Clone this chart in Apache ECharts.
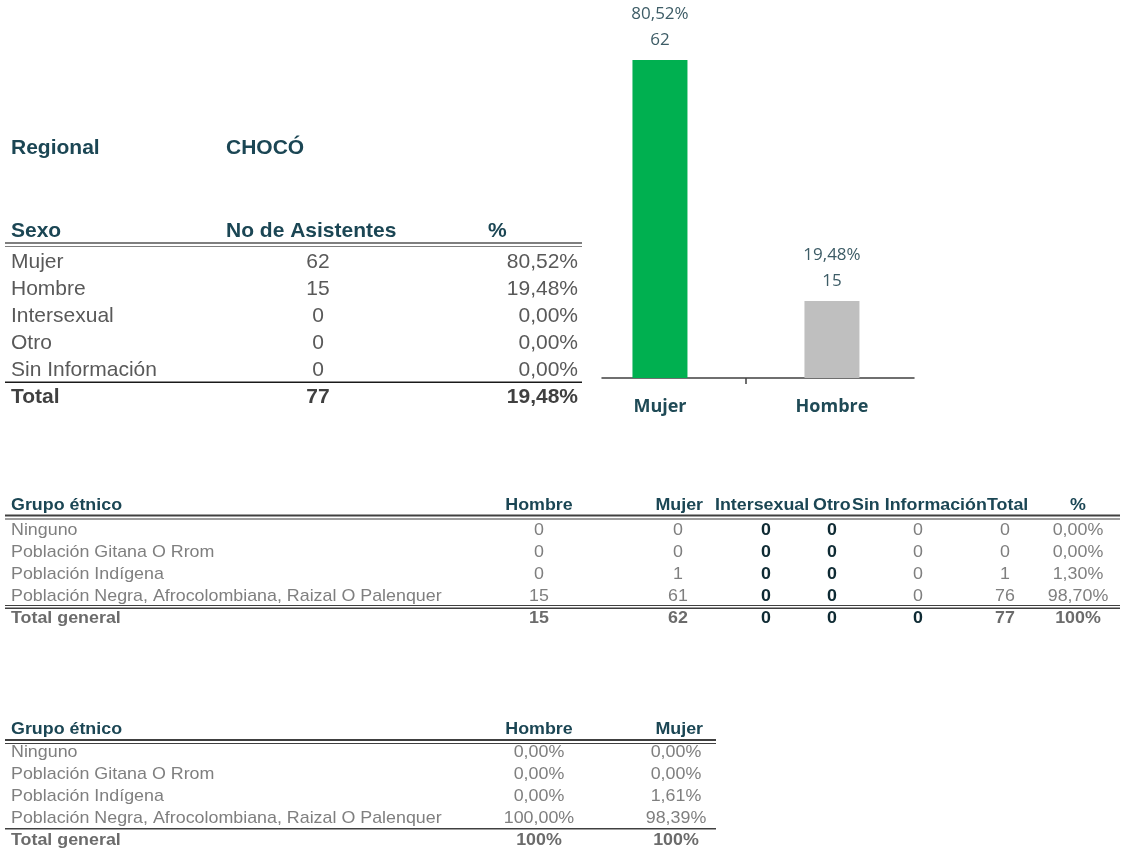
<!DOCTYPE html>
<html><head><meta charset="utf-8">
<script src="https://cdn.jsdelivr.net/npm/echarts@6/dist/echarts.min.js"></script>
<style>html,body{margin:0;padding:0;background:#fff}#c{width:1121px;height:849px}</style>
</head><body><div id="c"></div>
<script>
// ---- data ----
const regionalName = 'CHOCÓ';
const sexCategories = ['Mujer', 'Hombre', 'Intersexual', 'Otro', 'Sin Información'];
const sexCounts = [62, 15, 0, 0, 0];
const sexPercents = [80.52, 19.48, 0, 0, 0];
const sexTotalRow = ['Total', 77, '19,48%'];

const barCategories = ['Mujer', 'Hombre'];
const barValues = [62, 15];
const barPercents = [80.52, 19.48];

const ethnicGroups = ['Ninguno', 'Población Gitana O Rrom', 'Población Indígena', 'Población Negra, Afrocolombiana, Raizal O Palenquera'];
const ethHeaders = ['Hombre', 'Mujer', 'Intersexual', 'Otro', 'Sin Información', 'Total', '%'];
const ethHombre = [0, 0, 0, 15];
const ethMujer = [0, 0, 1, 61];
const ethIntersexual = [0, 0, 0, 0];
const ethOtro = [0, 0, 0, 0];
const ethSinInfo = [0, 0, 0, 0];
const ethTotal = [0, 0, 1, 76];
const ethPercent = [0, 0, 1.30, 98.70];
const ethTotalRow = [15, 62, 0, 0, 0, 77, '100%'];

const pctHeaders = ['Hombre', 'Mujer'];
const pctHombre = [0, 0, 0, 100];
const pctMujer = [0, 0, 1.61, 98.39];
const pctTotalRow = ['100%', '100%'];

// ---- helpers ----
const fmtPct = v => v.toFixed(2).replace('.', ',') + '%';
const FONT = "'Liberation Sans', Arial, sans-serif";
const HEAD = '#1b4654', GRAY1 = '#595959', GRAY2 = '#7f7f7f', DARK = '#0e2a33';

function T(x, y, text, font, color, align, sx, extra) {
  const style = Object.assign({
    text: String(text), font: font, fill: color,
    align: align || 'left', verticalAlign: 'middle',
    textAlign: align || 'left', textVerticalAlign: 'middle'
  }, extra || {});
  return { type: 'text', x: x, y: y, scaleX: sx || 1, silent: true, style: style };
}
function R(x, y, w, h, color) {
  return { type: 'rect', silent: true, shape: { x: x, y: y, width: w, height: h }, style: { fill: color } };
}

const g = [];
// ---- top table ----
const bH = 'bold 21px ' + FONT, rH = '21px ' + FONT;
g.push(T(11, 148, 'Regional', bH, HEAD));
g.push(T(226, 148, regionalName, bH, HEAD));
g.push(T(11, 231, 'Sexo', bH, HEAD));
g.push(T(226, 231, 'No de Asistentes', bH, HEAD));
g.push(T(488, 231, '%', bH, HEAD));
g.push(R(5, 242, 577, 2, '#7f7f7f'));
g.push(R(5, 246, 577, 1, '#7f7f7f'));
sexCategories.forEach((c, i) => {
  const y = 262 + i * 27;
  g.push(T(11, y, c, rH, GRAY1));
  g.push(T(318, y, sexCounts[i], rH, GRAY1, 'center'));
  g.push(T(578, y, fmtPct(sexPercents[i]), rH, GRAY1, 'right'));
});
g.push(R(5, 381.5, 577, 1.5, '#1a1a1a'));
g.push(T(11, 397, sexTotalRow[0], bH, '#404040'));
g.push(T(318, 397, sexTotalRow[1], bH, '#404040', 'center'));
g.push(T(578, 397, sexTotalRow[2], bH, '#404040', 'right'));

// ---- ethnic table ----
const SX = 1.05;
const bE = 'bold 17px ' + FONT, rE = '17px ' + FONT;
const ethCols = [
  { x: 539, hx: 539, ha: 'center', vals: ethHombre, dark: false },
  { x: 678, hx: 703, ha: 'right', vals: ethMujer, dark: false },
  { x: 766, hx: 715, ha: 'left', vals: ethIntersexual, dark: true },
  { x: 832, hx: 813, ha: 'left', vals: ethOtro, dark: true },
  { x: 918, hx: 852, ha: 'left', vals: ethSinInfo, dark: false },
  { x: 1005, hx: 987, ha: 'left', vals: ethTotal, dark: false },
  { x: 1078, hx: 1078, ha: 'center', vals: ethPercent.map(fmtPct), dark: false }
];
const TRUNC = { width: 414, overflow: 'truncate', ellipsis: '' };
g.push(T(11, 505, 'Grupo étnico', bE, HEAD, 'left', SX));
ethCols.forEach((c, j) => g.push(T(c.hx, 505, ethHeaders[j], bE, HEAD, c.ha, SX)));
g.push(R(5, 514.5, 1115, 2, '#404040'));
g.push(R(5, 518.5, 1115, 1, '#404040'));
const ethY = [530, 552, 574, 596.5];
ethnicGroups.forEach((name, i) => {
  g.push(T(11, ethY[i], name, rE, GRAY2, 'left', SX, TRUNC));
  ethCols.forEach(c => {
    g.push(T(c.x, ethY[i], c.vals[i], c.dark ? bE : rE, c.dark ? DARK : GRAY2, 'center', SX));
  });
});
g.push(R(5, 605, 1115, 1, '#404040'));
g.push(R(5, 607.5, 1115, 1.5, '#404040'));
g.push(T(11, 618, 'Total general', bE, '#6b6b6b', 'left', SX));
ethCols.forEach((c, j) => {
  const dk = (j >= 2 && j <= 4);
  g.push(T(c.x, 618, ethTotalRow[j], bE, dk ? DARK : '#6b6b6b', 'center', SX));
});

// ---- percent table ----
g.push(T(11, 729, 'Grupo étnico', bE, HEAD, 'left', SX));
g.push(T(539, 729, pctHeaders[0], bE, HEAD, 'center', SX));
g.push(T(703, 729, pctHeaders[1], bE, HEAD, 'right', SX));
g.push(R(5, 739, 711, 2, '#404040'));
g.push(R(5, 743, 711, 1, '#404040'));
const pY = [752, 774, 796.5, 818.5];
ethnicGroups.forEach((name, i) => {
  g.push(T(11, pY[i], name, rE, GRAY2, 'left', SX, TRUNC));
  g.push(T(539, pY[i], fmtPct(pctHombre[i]), rE, GRAY2, 'center', SX));
  g.push(T(676, pY[i], fmtPct(pctMujer[i]), rE, GRAY2, 'center', SX));
});
g.push(R(5, 828, 711, 1.5, '#404040'));
g.push(T(11, 840, 'Total general', bE, '#6b6b6b', 'left', SX));
g.push(T(539, 840, pctTotalRow[0], bE, '#6b6b6b', 'center', SX));
g.push(T(676, 840, pctTotalRow[1], bE, '#6b6b6b', 'center', SX));

// ---- chart ----
const barColors = ['#00b050', '#bfbfbf'];
const chart = echarts.init(document.getElementById('c'), null, { renderer: 'canvas' });
chart.setOption({
  animation: false,
  backgroundColor: '#ffffff',
  grid: { left: 602, width: 312, top: 0, height: 378, containLabel: false },
  xAxis: {
    type: 'value', min: -0.337, max: 1.477,
    splitLine: { show: false },
    axisLine: { show: true, lineStyle: { color: '#404040', width: 1.5 } },
    axisTick: { show: true, customValues: [0.5], length: 6, lineStyle: { color: '#404040', width: 1.5 } },
    axisLabel: {
      customValues: [0, 1],
      formatter: v => barCategories[Math.round(v)],
      margin: 20, fontFamily: "'Open Sans', sans-serif", fontWeight: 'bold', fontSize: 18, color: '#1f4a56'
    }
  },
  yAxis: { type: 'value', min: 0, max: 73.7, show: false },
  series: [{
    type: 'bar',
    barWidth: 55,
    data: barValues.map((v, i) => ({ value: [i, v], itemStyle: { color: barColors[i] } })),
    label: {
      show: true, position: 'top', distance: 7,
      formatter: p => fmtPct(barPercents[p.dataIndex]) + '\n' + barValues[p.dataIndex],
      fontFamily: "'Open Sans', sans-serif", fontSize: 17, lineHeight: 26, color: '#3d5c66', align: 'center'
    }
  }],
  graphic: g
});
</script>
</body></html>
